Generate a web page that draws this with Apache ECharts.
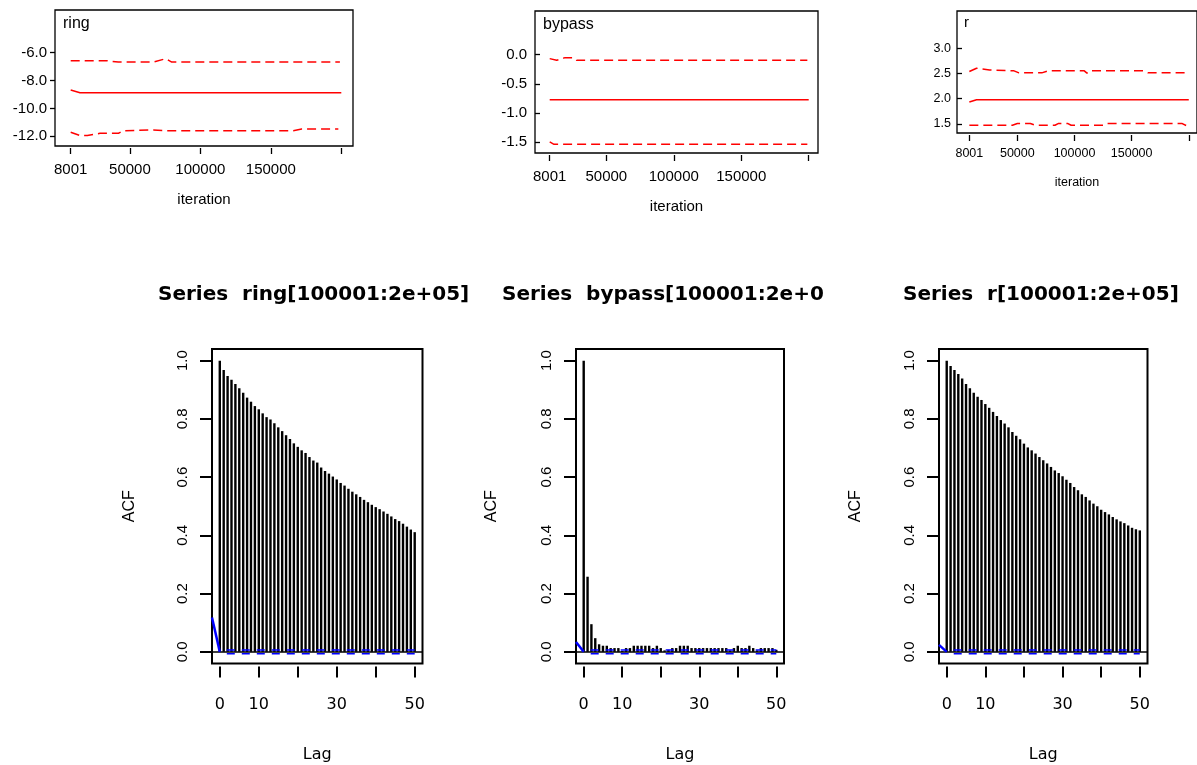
<!DOCTYPE html>
<html><head><meta charset="utf-8">
<script src="https://cdn.jsdelivr.net/npm/echarts@6/dist/echarts.min.js"></script>
<style>html,body{margin:0;padding:0;background:#fff}#c{width:1197px;height:765px}</style>
</head><body><div id="c"></div>
<script>
// ---------------- DATA ----------------
// trace (history) panels: [iteration, value]
const traceXTicks = [8001, 50000, 100000, 150000, 200000];
const traceXLabels = [8001, 50000, 100000, 150000];

const ringMedian = [[8001,-8.68],[14600,-8.87],[200000,-8.87]];
const ringUpper  = [[8001,-6.57],[33500,-6.57],[41800,-6.67],[66600,-6.67],[75400,-6.43],[79700,-6.67],[199000,-6.67]];
const ringLower  = [[8001,-11.71],[14600,-11.95],[19800,-11.95],[28800,-11.79],[41800,-11.79],[45300,-11.60],[66600,-11.55],[74800,-11.60],[165900,-11.60],[171900,-11.48],[197900,-11.48]];
const ringYTicks = [-12, -10, -8, -6];

const bypassMedian = [[8001,-0.77],[200000,-0.77]];
const bypassUpper  = [[8001,-0.068],[13200,-0.097],[19400,-0.051],[25500,-0.051],[28000,-0.097],[199000,-0.097]];
const bypassLower  = [[8001,-1.494],[11200,-1.534],[199000,-1.534]];
const bypassYTicks = [-1.5, -1.0, -0.5, 0.0];

const rMedian = [[8001,1.934],[14300,1.98],[200000,1.98]];
const rUpper  = [[8001,2.539],[14300,2.605],[18600,2.59],[25700,2.572],[47100,2.553],[51400,2.513],[71400,2.513],[77100,2.553],[108600,2.553],[110900,2.507],[113100,2.553],[160000,2.553],[164300,2.513],[200000,2.513]];
const rLower  = [[8001,1.474],[45700,1.474],[50000,1.507],[61400,1.507],[65700,1.474],[82900,1.474],[85700,1.507],[94300,1.507],[97100,1.474],[125700,1.474],[128600,1.507],[194300,1.507],[200000,1.441]];
const rYTicks = [1.5, 2.0, 2.5, 3.0];

// ACF panels
const lags = [0,1,2,3,4,5,6,7,8,9,10,11,12,13,14,15,16,17,18,19,20,21,22,23,24,25,26,27,28,29,30,31,32,33,34,35,36,37,38,39,40,41,42,43,44,45,46,47,48,49,50];
const acfRing = [1.000,0.968,0.947,0.934,0.920,0.905,0.890,0.873,0.859,0.844,0.833,0.819,0.806,0.798,0.785,0.771,0.758,0.744,0.731,0.716,0.704,0.692,0.683,0.669,0.657,0.650,0.633,0.621,0.612,0.602,0.592,0.580,0.571,0.560,0.550,0.541,0.532,0.522,0.514,0.505,0.497,0.490,0.482,0.474,0.465,0.456,0.449,0.440,0.430,0.420,0.411];
const acfBypass = [1.000,0.258,0.095,0.047,0.026,0.021,0.021,0.013,0.013,0.013,0.003,0.013,0.013,0.021,0.021,0.021,0.021,0.021,0.013,0.021,0.013,0.005,0.007,0.013,0.013,0.021,0.021,0.021,0.013,0.013,0.013,0.013,0.013,0.013,0.013,0.013,0.013,0.013,0.005,0.013,0.021,0.013,0.013,0.021,0.013,0.005,0.013,0.013,0.013,0.013,0.007];
const acfR = [1.000,0.982,0.968,0.954,0.939,0.920,0.905,0.890,0.876,0.865,0.851,0.838,0.824,0.810,0.796,0.784,0.771,0.755,0.742,0.730,0.715,0.702,0.692,0.681,0.669,0.658,0.647,0.635,0.623,0.614,0.603,0.591,0.580,0.566,0.555,0.541,0.532,0.520,0.509,0.500,0.488,0.480,0.472,0.463,0.455,0.448,0.442,0.434,0.426,0.421,0.417];
const acfYTicks = [0, 0.2, 0.4, 0.6, 0.8, 1.0];
const acfXTicks = [0, 10, 20, 30, 40, 50];
const acfXLabels = [0, 10, 30, 50];
const acfCI = 0.0062;              // 1.96/sqrt(n)
const ciLagRange = [0, 50];
const ringBlue   = [[-2, 0.118], [0, 0.0]];
const bypassBlue = [[-2, 0.034], [0, 0.0]];
const rBlue      = [[-2, 0.024], [0, 0.0]];

const traceTitles = ['ring', 'bypass', 'r'];
const acfTitles = ['Series  ring[100001:2e+05]', 'Series  bypass[100001:2e+05]', 'Series  r[100001:2e+05]'];

// ---------------- BUILD ----------------
const grids = [], xAxes = [], yAxes = [], series = [], graphics = [];
const RED = '#ff0000', BLUE = '#0000ff';

const traceCfg = [
  {grid:{left:55, top:10, width:298, height:136}, x:[-3138,208301], y:[-12.7,-2.93], fs:15, yMargin:8, tickInside:false, xMargin:14, nameGap:44,
   med:ringMedian, up:ringUpper, lo:ringLower, yt:ringYTicks, lab:{x:63,y:24,fs:16}},
  {grid:{left:535, top:11, width:283, height:142}, x:[-2896,206894], y:[-1.683,0.747], fs:15, yMargin:8, tickInside:true, xMargin:14, nameGap:44,
   med:bypassMedian, up:bypassUpper, lo:bypassLower, yt:bypassYTicks, lab:{x:543,y:25,fs:16}},
  {grid:{left:957, top:11, width:245, height:122}, x:[-2799,207200], y:[1.32,3.74], fs:12.5, yMargin:6, tickInside:true, xMargin:12, nameGap:41,
   med:rMedian, up:rUpper, lo:rLower, yt:rYTicks, lab:{x:964,y:23,fs:15}}
];

traceCfg.forEach((c, i) => {
  grids.push(Object.assign({show:true, borderColor:'#000', borderWidth:1.3, backgroundColor:'#fff'}, c.grid));
  xAxes.push({type:'value', gridIndex:i, min:c.x[0], max:c.x[1], offset:2,
    axisLine:{show:false, onZero:false}, splitLine:{show:false},
    axisTick:{show:true, length:6, lineStyle:{color:'#000', width:1.3}, customValues:traceXTicks},
    axisLabel:{show:true, customValues:traceXLabels, margin:c.xMargin, color:'#000', fontFamily:'Liberation Sans', fontSize:c.fs, formatter:v=>String(v)},
    name:'iteration', nameLocation:'middle', nameGap:c.nameGap, nameTextStyle:{color:'#000', fontFamily:'Liberation Sans', fontSize:c.fs}});
  yAxes.push({type:'value', gridIndex:i, min:c.y[0], max:c.y[1],
    axisLine:{show:false, onZero:false}, splitLine:{show:false},
    axisTick:{show:true, inside:c.tickInside, length:5, lineStyle:{color:'#000', width:1.3}, customValues:c.yt},
    axisLabel:{show:true, customValues:c.yt, margin:c.yMargin, color:'#000', fontFamily:'Liberation Sans', fontSize:c.fs, formatter:v=>v.toFixed(1)}});
  const base = {type:'line', xAxisIndex:i, yAxisIndex:i, showSymbol:false, symbol:'none', silent:true, animation:false};
  series.push(Object.assign({}, base, {data:c.med, lineStyle:{color:RED, width:1.5}}));
  series.push(Object.assign({}, base, {data:c.up, lineStyle:{color:RED, width:1.5, type:[9,5]}}));
  series.push(Object.assign({}, base, {data:c.lo, lineStyle:{color:RED, width:1.5, type:[9,5]}}));
  graphics.push({type:'text', x:c.lab.x, y:c.lab.y, style:{text:traceTitles[i], fill:'#000', font:c.lab.fs+'px "Liberation Sans"', textVerticalAlign:'middle'}, z:100});
});

const acfCfg = [
  {grid:{left:212, top:349, width:210.5, height:314.5}, data:acfRing, blue:ringBlue, nameGap:74, title:{x:158, w:400}},
  {grid:{left:576, top:349, width:208, height:314.5}, data:acfBypass, blue:bypassBlue, nameGap:76, title:{x:502, w:336}},
  {grid:{left:939, top:349, width:208.5, height:314.5}, data:acfR, blue:rBlue, nameGap:75, title:{x:903, w:400}}
];

acfCfg.forEach((c, j) => {
  const i = j + 3;
  grids.push(Object.assign({show:true, borderColor:'#000', borderWidth:2, backgroundColor:'#fff'}, c.grid));
  xAxes.push({type:'value', gridIndex:i, min:-2, max:52, offset:3,
    axisLine:{show:false, onZero:false}, splitLine:{show:false},
    axisTick:{show:true, length:11, lineStyle:{color:'#000', width:2}, customValues:acfXTicks},
    axisLabel:{show:true, customValues:acfXLabels, margin:30, color:'#000', fontFamily:'DejaVu Sans', fontSize:16},
    name:'Lag', nameLocation:'middle', nameGap:80, nameTextStyle:{color:'#000', fontFamily:'DejaVu Sans', fontSize:16}});
  yAxes.push({type:'value', gridIndex:i, min:-0.04, max:1.04,
    axisLine:{show:false, onZero:false}, splitLine:{show:false},
    axisTick:{show:true, length:12, lineStyle:{color:'#000', width:2}, customValues:acfYTicks},
    axisLabel:{show:true, customValues:acfYTicks, rotate:90, margin:22, color:'#000', fontFamily:'Liberation Sans', fontSize:15, formatter:v=>v.toFixed(1)},
    name:'ACF', nameLocation:'middle', nameGap:c.nameGap, nameRotate:90, nameTextStyle:{color:'#000', fontFamily:'Liberation Sans', fontSize:16}});
  series.push({type:'bar', xAxisIndex:i, yAxisIndex:i, barWidth:2.4, silent:true, animation:false,
    itemStyle:{color:'#000'}, data:lags.map((l,k)=>[l, c.data[k]]),
    markLine:{silent:true, symbol:'none', label:{show:false}, lineStyle:{color:'#000', width:1.5, type:'solid'}, data:[{yAxis:0}]}});
  const base = {type:'line', xAxisIndex:i, yAxisIndex:i, showSymbol:false, symbol:'none', silent:true, animation:false, z:5};
  series.push(Object.assign({}, base, {data:[[ciLagRange[0], acfCI],[ciLagRange[1], acfCI]], lineStyle:{color:BLUE, width:1.5, type:[8,7], dashOffset:8}}));
  series.push(Object.assign({}, base, {data:[[ciLagRange[0], -acfCI],[ciLagRange[1], -acfCI]], lineStyle:{color:BLUE, width:1.5, type:[8,7], dashOffset:8}}));
  series.push(Object.assign({}, base, {data:c.blue, lineStyle:{color:BLUE, width:2.5}}));
  graphics.push({type:'text', x:c.title.x, y:295, z:100,
    style:{text:acfTitles[j], fill:'#000', font:'bold 20px "DejaVu Sans"', textVerticalAlign:'middle', width:c.title.w, overflow:'truncate', ellipsis:''}});
});

const chart = echarts.init(document.getElementById('c'), null, {renderer:'canvas'});
chart.setOption({
  animation:false,
  backgroundColor:'#fff',
  grid:grids, xAxis:xAxes, yAxis:yAxes, series:series, graphic:graphics
});
</script></body></html>
